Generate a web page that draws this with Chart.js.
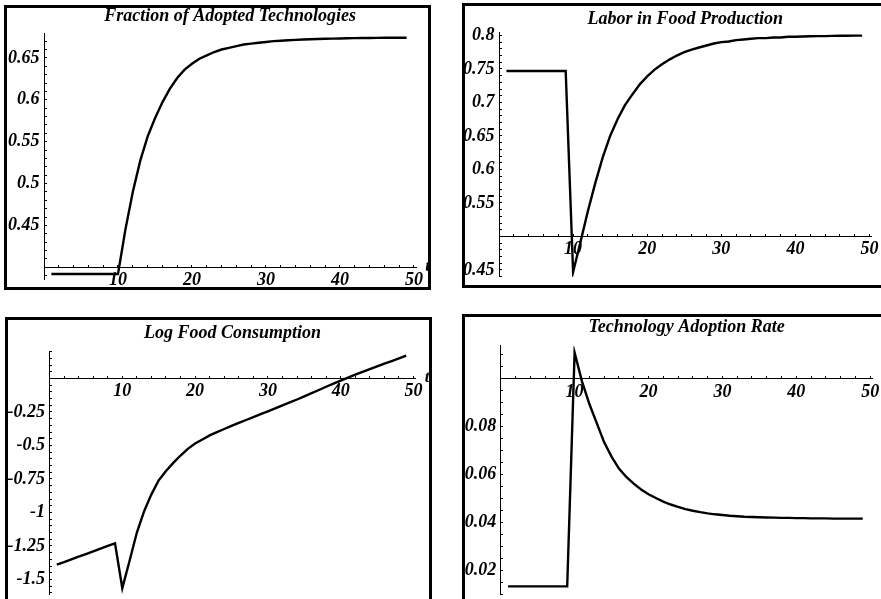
<!DOCTYPE html>
<html>
<head>
<meta charset="utf-8">
<script src="https://cdn.jsdelivr.net/npm/chart.js@4.4.1/dist/chart.umd.min.js"></script>
<style>
  html, body { margin: 0; padding: 0; background: #fff; }
  body { width: 881px; height: 599px; position: relative; overflow: hidden; }
  .frame { position: absolute; box-sizing: border-box; border: 3px solid #000; overflow: hidden; background: #fff; }
  .frame canvas { position: absolute; left: -20px; top: -12px; }
</style>
</head>
<body>
<div class="frame" id="f1"><canvas id="c1"></canvas></div>
<div class="frame" id="f2"><canvas id="c2"></canvas></div>
<div class="frame" id="f3"><canvas id="c3"></canvas></div>
<div class="frame" id="f4"><canvas id="c4"></canvas></div>
<script>
// time steps
const t = [1, 2, 3, 4, 5, 6, 7, 8, 9, 10,
  11, 12, 13, 14, 15, 16, 17, 18, 19, 20,
  21, 22, 23, 24, 25, 26, 27, 28, 29, 30,
  31, 32, 33, 34, 35, 36, 37, 38, 39, 40,
  41, 42, 43, 44, 45, 46, 47, 48, 49];

const adopted = [0.392, 0.392, 0.392, 0.392, 0.392, 0.392, 0.392, 0.392, 0.392, 0.392,
  0.445, 0.49, 0.527, 0.556, 0.578, 0.597, 0.613, 0.626, 0.636, 0.643,
  0.649, 0.653, 0.657, 0.66, 0.662, 0.664, 0.666, 0.667, 0.668, 0.669,
  0.67, 0.6705, 0.671, 0.6715, 0.672, 0.6722, 0.6725, 0.6728, 0.673, 0.6732,
  0.6734, 0.6736, 0.6737, 0.6738, 0.6739, 0.674, 0.674, 0.674, 0.674];

const labor = [0.747, 0.747, 0.747, 0.747, 0.747, 0.747, 0.747, 0.747, 0.747, 0.447,
  0.492, 0.538, 0.58, 0.618, 0.65, 0.675, 0.696, 0.712, 0.727, 0.739,
  0.749, 0.757, 0.764, 0.77, 0.775, 0.779, 0.782, 0.785, 0.788, 0.79,
  0.791, 0.793, 0.794, 0.795, 0.796, 0.796, 0.797, 0.797, 0.798, 0.798,
  0.7985, 0.7988, 0.799, 0.799, 0.7993, 0.7995, 0.7996, 0.7997, 0.7998];

const logFood = [-1.39, -1.37, -1.35, -1.33, -1.31, -1.29, -1.27, -1.25, -1.23, -1.565,
  -1.36, -1.15, -0.99, -0.865, -0.76, -0.69, -0.63, -0.575, -0.525, -0.485,
  -0.455, -0.425, -0.4, -0.377, -0.354, -0.332, -0.31, -0.288, -0.266, -0.245,
  -0.223, -0.201, -0.179, -0.157, -0.134, -0.11, -0.086, -0.062, -0.039, -0.016,
  0.006, 0.028, 0.049, 0.07, 0.09, 0.11, 0.13, 0.15, 0.17];

const adoptRate = [0.0133, 0.0133, 0.0133, 0.0133, 0.0133, 0.0133, 0.0133, 0.0133, 0.0133, 0.111,
  0.099, 0.0895, 0.0815, 0.0735, 0.0675, 0.0625, 0.059, 0.0562, 0.0538, 0.0518,
  0.0502, 0.0487, 0.0475, 0.0465, 0.0456, 0.0449, 0.0443, 0.0438, 0.0434, 0.0431,
  0.0428, 0.0426, 0.0424, 0.0423, 0.0422, 0.0421, 0.042, 0.0419, 0.0419, 0.0418,
  0.0418, 0.0417, 0.0417, 0.0417, 0.0416, 0.0416, 0.0416, 0.0416, 0.0416];

// tick labels
const xTickLabels = [10, 20, 30, 40, 50];
const adoptedTicks = [0.45, 0.5, 0.55, 0.6, 0.65];
const laborTicks = [0.45, 0.55, 0.6, 0.65, 0.7, 0.75, 0.8];
const logFoodTicks = [-1.5, -1.25, -1, -0.75, -0.5, -0.25];
const adoptRateTicks = [0.02, 0.04, 0.06, 0.08];

const FONT = '"Liberation Serif", "DejaVu Serif", serif';
const BORDER = 3;

const steps = (lo, hi, step) => {
  const out = [];
  for (let k = Math.ceil(lo / step - 1e-9); k * step <= hi + 1e-9; k++) {
    out.push(Math.round(k * step * 1e6) / 1e6);
  }
  return out;
};

const findLabel = (labels, v) => labels.find((l) => Math.abs(l - v) < 1e-7);

// little italic "t" at the end of the time axis
const axisLetter = {
  id: "axisLetter",
  afterDraw(chart) {
    const { ctx, scales } = chart;
    const origin = chart.options.plugins.axisLetter.origin;
    ctx.save();
    ctx.font = "italic bold 17px " + FONT;
    ctx.fillStyle = "#000";
    ctx.textAlign = "left";
    ctx.textBaseline = "alphabetic";
    ctx.fillText("t", scales.x.getPixelForValue(scales.x.max) + 9, scales.y.getPixelForValue(origin) + 4);
    ctx.restore();
  },
};

const makePanel = (n, p) => {
  const f = p.frame;
  const wrap = document.getElementById("f" + n);
  wrap.style.left = f.left + "px";
  wrap.style.top = f.top + "px";
  wrap.style.width = f.right - f.left + "px";
  wrap.style.height = f.bottom - f.top + "px";

  const cx = f.left + BORDER - 20;
  const cy = f.top + BORDER - 12;
  const cw = Math.round(f.right - BORDER + 20 - cx);
  const ch = Math.round(f.bottom - BORDER + 25 - cy);
  const canvas = document.getElementById("c" + n);
  canvas.width = cw;
  canvas.height = ch;
  canvas.style.width = cw + "px";
  canvas.style.height = ch + "px";

  const lh = 18 * 1.2;
  const titleTop = p.titleMid - cy - lh / 2;
  const titleBottom = p.plot.top - cy - titleTop - lh;

  const tickFont = { family: FONT, size: 18, style: "italic", weight: "bold" };

  const config = {
    type: "line",
    data: {
      datasets: [
        {
          data: t.map((x, i) => ({ x: x, y: p.values[i] })),
          borderColor: "#000",
          borderWidth: 2.4,
          pointRadius: 0,
          tension: 0,
          fill: false,
        },
      ],
    },
    options: {
      responsive: false,
      animation: false,
      events: [],
      layout: {
        padding: {
          left: p.plot.left - cx,
          right: cw - (p.plot.right - cx),
          top: 0,
          bottom: ch - (p.plot.bottom - cy),
        },
      },
      scales: {
        x: {
          type: "linear",
          min: 0,
          max: 50.3,
          position: { y: p.origin },
          afterBuildTicks: (scale) => {
            scale.ticks = steps(2, 50, 2).map((v) => ({ value: v }));
          },
          grid: { drawOnChartArea: false, tickLength: -3, tickColor: "#000", tickWidth: 1 },
          border: { color: "#000", width: 1 },
          ticks: {
            autoSkip: false,
            maxRotation: 0,
            minRotation: 0,
            padding: 5.5,
            color: "#000",
            font: tickFont,
            callback: (v) => (findLabel(xTickLabels, v) !== undefined ? String(v) : ""),
          },
        },
        y: {
          type: "linear",
          min: p.yMin,
          max: p.yMax,
          position: { x: 0 },
          afterBuildTicks: (scale) => {
            scale.ticks = steps(p.yMin, p.yMax, p.minor).map((v) => ({ value: v }));
          },
          grid: { drawOnChartArea: false, tickLength: -3, tickColor: "#000", tickWidth: 1 },
          border: { color: "#000", width: 1 },
          ticks: {
            autoSkip: false,
            color: "#000",
            font: tickFont,
            callback: (v) => {
              const l = findLabel(p.labels, v);
              return l !== undefined && Math.abs(l - p.origin) > 1e-7 ? String(l) + " " : "";
            },
          },
        },
      },
      plugins: {
        legend: { display: false },
        tooltip: { enabled: false },
        axisLetter: { origin: p.origin },
        title: {
          display: true,
          text: p.title,
          fullSize: false,
          color: "#000",
          font: { family: FONT, size: 18, style: "italic", weight: "bold" },
          padding: { top: titleTop, bottom: titleBottom },
        },
      },
    },
    plugins: [axisLetter],
  };

  return new Chart(canvas, config);
};

makePanel(1, {
  title: "Fraction of Adopted Technologies",
  values: adopted,
  labels: adoptedTicks,
  frame: { left: 4, top: 5, right: 431, bottom: 290 },
  plot: { left: 44, right: 416.2, top: 33.6, bottom: 279.9 },
  titleMid: 16.5,
  yMin: 0.385,
  yMax: 0.679,
  origin: 0.4,
  minor: 0.01,
});

makePanel(2, {
  title: "Labor in Food Production",
  values: labor,
  labels: laborTicks,
  frame: { left: 462, top: 3, right: 900, bottom: 288 },
  plot: { left: 499, right: 871.7, top: 32.1, bottom: 276.7 },
  titleMid: 19,
  yMin: 0.44,
  yMax: 0.805,
  origin: 0.5,
  minor: 0.01,
});

makePanel(3, {
  title: "Log Food Consumption",
  values: logFood,
  labels: logFoodTicks,
  frame: { left: 5, top: 317, right: 432, bottom: 615 },
  plot: { left: 49.5, right: 415.7, top: 351, bottom: 594.2 },
  titleMid: 333.5,
  yMin: -1.61,
  yMax: 0.205,
  origin: 0,
  minor: 0.05,
});

makePanel(4, {
  title: "Technology Adoption Rate",
  values: adoptRate,
  labels: adoptRateTicks,
  frame: { left: 462, top: 314, right: 900, bottom: 615 },
  plot: { left: 500.7, right: 872.4, top: 345.9, bottom: 594.7 },
  titleMid: 327.5,
  yMin: 0.0098,
  yMax: 0.1138,
  origin: 0.1,
  minor: 0.005,
});
</script>
</body>
</html>
